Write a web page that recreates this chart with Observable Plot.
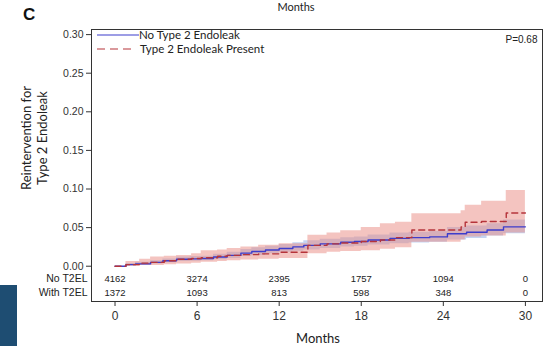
<!DOCTYPE html>
<html>
<head>
<meta charset="utf-8">
<script src="https://cdn.jsdelivr.net/npm/d3@7"></script>
<script src="https://cdn.jsdelivr.net/npm/@observablehq/plot@0.6"></script>
<style>
  html, body { margin: 0; padding: 0; background: #fff; }
  #chart { position: relative; width: 545px; height: 346px; overflow: hidden; }
</style>
</head>
<body>
<div id="chart"></div>
<script>
// ---- Data ----
// No Type 2 Endoleak (cumulative incidence of reintervention, with 95% CI)
const noT2_t     = [0, 0.8, 1.5, 2.6, 3.5, 4.5, 5.5, 6.3, 7.2, 8.2, 9.2, 10.0, 11.0, 12.0, 13.0, 13.8, 15.0, 16.5, 17.5, 18.5, 20.1, 21.5, 23.0, 24.3, 25.7, 27.2, 28.4, 30];
const noT2_est   = [0, 0.002, 0.003, 0.005, 0.007, 0.009, 0.0095, 0.010, 0.012, 0.014, 0.017, 0.019, 0.021, 0.023, 0.025, 0.027, 0.029, 0.031, 0.032, 0.034, 0.036, 0.037, 0.038, 0.042, 0.044, 0.047, 0.051, 0.051];
const noT2_lower = [0, 0.0005, 0.001, 0.003, 0.0045, 0.006, 0.0065, 0.007, 0.0085, 0.010, 0.0125, 0.014, 0.016, 0.018, 0.0195, 0.021, 0.023, 0.025, 0.026, 0.0275, 0.029, 0.030, 0.031, 0.034, 0.036, 0.039, 0.042, 0.042];
const noT2_upper = [0, 0.0035, 0.005, 0.007, 0.0095, 0.012, 0.0125, 0.013, 0.0155, 0.018, 0.0215, 0.024, 0.026, 0.028, 0.0305, 0.033, 0.035, 0.037, 0.038, 0.0405, 0.043, 0.044, 0.045, 0.050, 0.052, 0.055, 0.060, 0.060];

// Type 2 Endoleak Present
const t2_t     = [0, 0.8, 1.8, 2.6, 3.6, 4.5, 5.6, 6.3, 7.5, 8.2, 9.2, 10.5, 12.0, 14.1, 15.5, 16.5, 18.0, 19.4, 20.5, 21.7, 25.3, 25.6, 26.8, 28.6, 30];
const t2_est   = [0, 0.002, 0.004, 0.005, 0.007, 0.009, 0.010, 0.011, 0.013, 0.014, 0.015, 0.016, 0.018, 0.027, 0.029, 0.030, 0.032, 0.034, 0.037, 0.047, 0.051, 0.057, 0.058, 0.069, 0.069];
const t2_lower = [0, 0, 0.001, 0.001, 0.002, 0.003, 0.004, 0.005, 0.006, 0.007, 0.008, 0.009, 0.010, 0.016, 0.018, 0.019, 0.020, 0.022, 0.024, 0.031, 0.034, 0.038, 0.039, 0.043, 0.043];
const t2_upper = [0, 0.006, 0.009, 0.012, 0.013, 0.014, 0.016, 0.020, 0.021, 0.023, 0.025, 0.027, 0.029, 0.040, 0.043, 0.046, 0.050, 0.055, 0.057, 0.068, 0.072, 0.079, 0.084, 0.098, 0.098];

// Numbers at risk
const riskMonths = [0, 6, 12, 18, 24, 30];
const riskNoT2   = [4162, 3274, 2395, 1757, 1094, 0];
const riskT2     = [1372, 1093, 813, 598, 348, 0];
const riskRowLabels = ["No T2EL", "With T2EL"];

const xTicks = [0, 6, 12, 18, 24, 30];
const yTicks = [0, 0.05, 0.10, 0.15, 0.20, 0.25, 0.30];
const seriesNames = ["No Type 2 Endoleak", "Type 2 Endoleak Present"];
const pValueText = "P=0.68";

// ---- Build tables ----
const noT2 = noT2_t.map((t, i) => ({t, est: noT2_est[i], lo: noT2_lower[i], hi: noT2_upper[i]}));
const t2 = t2_t.map((t, i) => ({t, est: t2_est[i], lo: t2_lower[i], hi: t2_upper[i]}));
const riskA = riskMonths.map((m, i) => ({m, n: String(riskNoT2[i])}));
const riskB = riskMonths.map((m, i) => ({m, n: String(riskT2[i])}));

const BLUE = "#3d3dcc";
const RED = "#b5343b";
const tickFont = "Liberation Sans, Arial, sans-serif";
const labelFont = "Lato, 'Open Sans', sans-serif";

const plot = Plot.plot({
  width: 545,
  height: 346,
  marginLeft: 91,
  marginRight: 3,
  marginTop: 29,
  marginBottom: 45,
  style: {fontFamily: tickFont, fontSize: "10px", color: "#333", background: "#fff", overflow: "visible"},
  x: {domain: [-1.72, 31.25]},
  y: {domain: [-0.0457, 0.3066]},
  marks: [
    Plot.areaY(noT2, {x: "t", y1: "lo", y2: "hi", curve: "step-after", fill: "#7f9fe3", fillOpacity: 0.45}),
    Plot.areaY(t2, {x: "t", y1: "lo", y2: "hi", curve: "step-after", fill: "#ea8a82", fillOpacity: 0.5}),
    Plot.line(noT2, {x: "t", y: "est", curve: "step-after", stroke: BLUE, strokeWidth: 1.4}),
    Plot.line(t2, {x: "t", y: "est", curve: "step-after", stroke: RED, strokeWidth: 1.4, strokeDasharray: "6,4"}),
    Plot.frame({stroke: "#333", strokeWidth: 1}),
    Plot.axisX({ticks: xTicks, tickSize: 5, tickPadding: 5, fontSize: 12, label: null, anchor: "bottom"}),
    Plot.axisY({ticks: yTicks, tickFormat: ".2f", tickSize: 5, tickPadding: 3, fontSize: 10.5, label: null, anchor: "left"}),
    // numbers at risk
    Plot.text(riskA, {x: "m", text: "n", frameAnchor: "bottom", dy: -20, fontSize: 9.5, fill: "#222"}),
    Plot.text(riskB, {x: "m", text: "n", frameAnchor: "bottom", dy: -6, fontSize: 9.5, fill: "#222"}),
    Plot.text([riskRowLabels[0]], {text: d => d, frameAnchor: "bottom-left", dx: -4, dy: -20, textAnchor: "end", fontSize: 10.5, fill: "#222"}),
    Plot.text([riskRowLabels[1]], {text: d => d, frameAnchor: "bottom-left", dx: -4, dy: -6, textAnchor: "end", fontSize: 10.5, fill: "#222"}),
    Plot.text([pValueText], {text: d => d, frameAnchor: "top-right", dx: -5, dy: 6, textAnchor: "end", fontSize: 10, fill: "#222"})
  ]
});

document.getElementById("chart").appendChild(plot);

// ---- Annotations (legend, titles, axis titles) ----
const svg = d3.select(plot);

// dark blue page-edge block
svg.insert("rect", ":first-child").attr("x", 0).attr("y", 285).attr("width", 17).attr("height", 61).attr("fill", "#1e4d72");

// Panel letter
svg.append("text").attr("x", 23).attr("y", 20).attr("text-anchor", "start").attr("font-family", "Liberation Sans, Arial, sans-serif")
  .attr("font-weight", "bold").attr("font-size", 17).attr("fill", "#111").text("C");

// Title carried over from the panel above (cut in the reference)
svg.append("text").attr("x", 296).attr("y", 11).attr("text-anchor", "middle").attr("font-family", labelFont)
  .attr("font-size", 11).attr("fill", "#222").text("Months");

// X-axis title
svg.append("text").attr("x", 318).attr("y", 343).attr("text-anchor", "middle").attr("font-family", labelFont)
  .attr("font-size", 13).attr("fill", "#222").text("Months");

// Y-axis title (two lines)
const yl = svg.append("text").attr("transform", "translate(0,138) rotate(-90)").attr("text-anchor", "middle")
  .attr("font-family", labelFont).attr("font-size", 13).attr("fill", "#222");
yl.append("tspan").attr("x", 0).attr("y", 31).text("Reintervention for");
yl.append("tspan").attr("x", 0).attr("y", 47).text("Type 2 Endoleak");

// Legend
const lg = svg.append("g").attr("font-family", labelFont).attr("font-size", 11.5).attr("fill", "#222").attr("text-anchor", "start");
lg.append("line").attr("x1", 97).attr("x2", 139).attr("y1", 35).attr("y2", 35).attr("stroke", BLUE).attr("stroke-width", 1.2);
lg.append("text").attr("x", 139).attr("y", 35).attr("dy", "0.35em").attr("text-anchor", "start").text(seriesNames[0]);
lg.append("line").attr("x1", 97).attr("x2", 135).attr("y1", 49).attr("y2", 49).attr("stroke", RED).attr("stroke-width", 1.2).attr("stroke-dasharray", "8,5");
lg.append("text").attr("x", 140).attr("y", 49).attr("dy", "0.35em").attr("text-anchor", "start").text(seriesNames[1]);
</script>
</body>
</html>
